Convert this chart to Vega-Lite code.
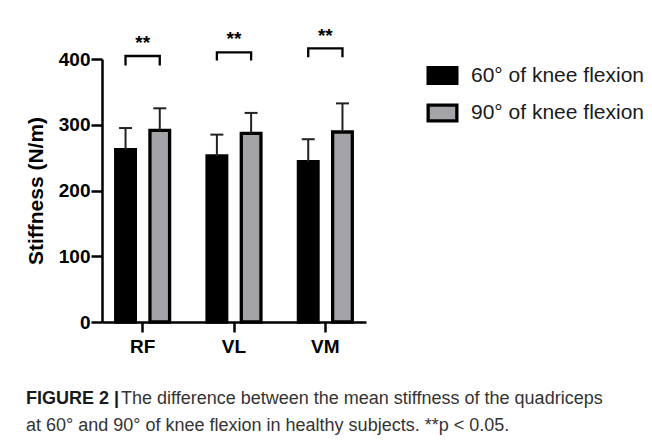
{
  "$schema": "https://vega.github.io/schema/vega-lite/v6.json",
  "width": 264,
  "height": 263,
  "autosize": {"type": "none"},
  "padding": {"left": 102, "top": 59, "right": 286, "bottom": 119},
  "background": "white",
  "config": {"view": {"stroke": null}, "font": "Liberation Sans"},
  "datasets": {
    "bars": [
      {"muscle": "RF", "condition": "60° of knee flexion", "mean": 262, "upper": 295},
      {"muscle": "RF", "condition": "90° of knee flexion", "mean": 291.5, "upper": 325},
      {"muscle": "VL", "condition": "60° of knee flexion", "mean": 252.5, "upper": 285},
      {"muscle": "VL", "condition": "90° of knee flexion", "mean": 287, "upper": 318},
      {"muscle": "VM", "condition": "60° of knee flexion", "mean": 244, "upper": 278},
      {"muscle": "VM", "condition": "90° of knee flexion", "mean": 289, "upper": 332.5}
    ],
    "brackets": [
      {"muscle": "RF", "condition": "60° of knee flexion", "y": 392, "ord": 1},
      {"muscle": "RF", "condition": "60° of knee flexion", "y": 404.6, "ord": 2},
      {"muscle": "RF", "condition": "90° of knee flexion", "y": 404.6, "ord": 3},
      {"muscle": "RF", "condition": "90° of knee flexion", "y": 392, "ord": 4},
      {"muscle": "VL", "condition": "60° of knee flexion", "y": 399.5, "ord": 1},
      {"muscle": "VL", "condition": "60° of knee flexion", "y": 410.2, "ord": 2},
      {"muscle": "VL", "condition": "90° of knee flexion", "y": 410.2, "ord": 3},
      {"muscle": "VL", "condition": "90° of knee flexion", "y": 399.5, "ord": 4},
      {"muscle": "VM", "condition": "60° of knee flexion", "y": 404.6, "ord": 1},
      {"muscle": "VM", "condition": "60° of knee flexion", "y": 416.3, "ord": 2},
      {"muscle": "VM", "condition": "90° of knee flexion", "y": 416.3, "ord": 3},
      {"muscle": "VM", "condition": "90° of knee flexion", "y": 404.6, "ord": 4}
    ],
    "stars": [
      {"muscle": "RF", "label": "**", "y": 415},
      {"muscle": "VL", "label": "**", "y": 421},
      {"muscle": "VM", "label": "**", "y": 426}
    ]
  },
  "title": {
    "text": "FIGURE 2 |",
    "subtitle": [
      "\u200b\u00a0\u00a0\u00a0\u00a0\u00a0\u00a0\u00a0\u00a0\u00a0\u00a0\u00a0\u00a0\u00a0\u00a0\u00a0\u00a0\u00a0\u00a0\u00a0The difference between the mean stiffness of the quadriceps",
      "at 60° and 90° of knee flexion in healthy subjects. **p < 0.05."
    ],
    "orient": "bottom",
    "anchor": "start",
    "frame": "group",
    "dx": -76,
    "offset": 34,
    "font": "Liberation Sans",
    "fontSize": 18,
    "fontWeight": "bold",
    "color": "#1a1a1a",
    "subtitleFont": "Liberation Sans",
    "subtitleFontSize": 18,
    "subtitleFontWeight": "normal",
    "subtitleColor": "#333333",
    "subtitlePadding": -18,
    "subtitleLineHeight": 27
  },
  "layer": [
    {
      "data": {"name": "bars"},
      "mark": {"type": "bar", "stroke": "black", "strokeWidth": 3.3},
      "encoding": {
        "x": {
          "field": "muscle", "type": "nominal", "sort": ["RF", "VL", "VM"],
          "scale": {"paddingInner": 0.41, "paddingOuter": 0.15},
          "axis": {
            "title": null, "labelAngle": 0, "labelFontSize": 19, "labelFontWeight": "bold",
            "labelColor": "black", "labelPadding": 5, "tickSize": 10, "tickWidth": 2.5,
            "tickColor": "black", "domainColor": "black", "domainWidth": 2.5, "labelFont": "Liberation Sans"
          }
        },
        "xOffset": {
          "field": "condition", "type": "nominal",
          "scale": {"paddingInner": 0.426, "paddingOuter": 0}
        },
        "y": {
          "field": "mean", "type": "quantitative",
          "scale": {"domain": [0, 400], "nice": false},
          "axis": {
            "values": [0, 100, 200, 300, 400], "title": "Stiffness (N/m)",
            "titleFontSize": 21, "titleFontWeight": "bold", "titleColor": "black", "titlePadding": 12,
            "titleFont": "Liberation Sans", "labelFont": "Liberation Sans",
            "labelFontSize": 19, "labelFontWeight": "bold", "labelColor": "black", "labelPadding": 1,
            "tickSize": 11, "tickWidth": 2.5, "tickColor": "black",
            "domainColor": "black", "domainWidth": 2.5, "grid": false
          }
        },
        "color": {
          "field": "condition", "type": "nominal",
          "scale": {"domain": ["60° of knee flexion", "90° of knee flexion"], "range": ["#000000", "#a4a4a8"]},
          "legend": {
            "title": null, "orient": "none", "legendX": 324, "legendY": 0,
            "labelFontSize": 21, "labelFont": "Liberation Sans", "labelColor": "#1a1a1a", "labelLimit": 400,
            "symbolType": "M-1,-0.547H1V0.547H-1Z", "symbolSize": 824,
            "symbolStrokeWidth": 3.3, "symbolStrokeColor": "black", "symbolOpacity": 1,
            "rowPadding": 6.5, "labelOffset": 12, "padding": 0
          }
        }
      }
    },
    {
      "data": {"name": "bars"},
      "mark": {"type": "rule", "strokeWidth": 2, "color": "#222222"},
      "encoding": {
        "x": {"field": "muscle", "type": "nominal", "sort": ["RF", "VL", "VM"]},
        "xOffset": {"field": "condition", "type": "nominal"},
        "y": {"field": "mean", "type": "quantitative"},
        "y2": {"field": "upper"}
      }
    },
    {
      "data": {"name": "bars"},
      "mark": {"type": "tick", "thickness": 2, "size": 13, "color": "#222222", "opacity": 1},
      "encoding": {
        "x": {"field": "muscle", "type": "nominal", "sort": ["RF", "VL", "VM"]},
        "xOffset": {"field": "condition", "type": "nominal"},
        "y": {"field": "upper", "type": "quantitative"}
      }
    },
    {
      "data": {"name": "brackets"},
      "mark": {"type": "line", "strokeWidth": 2.3, "color": "black", "strokeJoin": "miter", "strokeCap": "square"},
      "encoding": {
        "x": {"field": "muscle", "type": "nominal", "sort": ["RF", "VL", "VM"]},
        "xOffset": {"field": "condition", "type": "nominal"},
        "y": {"field": "y", "type": "quantitative"},
        "detail": {"field": "muscle"},
        "order": {"field": "ord"}
      }
    },
    {
      "data": {"name": "stars"},
      "mark": {"type": "text", "fontSize": 19, "fontWeight": "bold", "baseline": "alphabetic", "color": "black"},
      "encoding": {
        "x": {"field": "muscle", "type": "nominal", "sort": ["RF", "VL", "VM"]},
        "y": {"field": "y", "type": "quantitative"},
        "text": {"field": "label"}
      }
    }
  ]
}
